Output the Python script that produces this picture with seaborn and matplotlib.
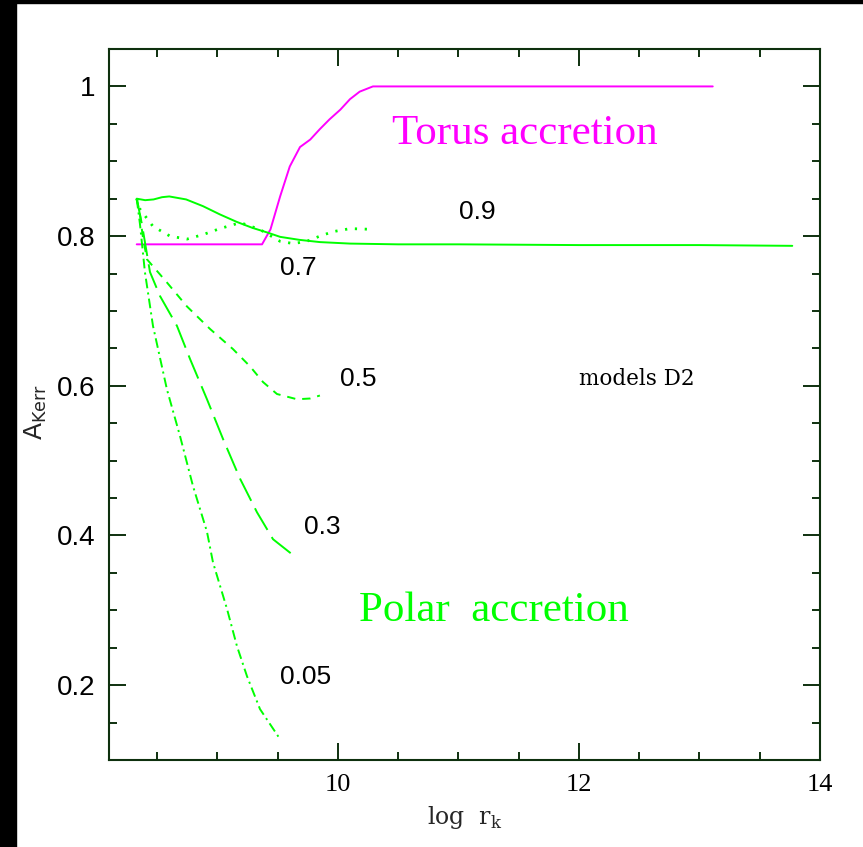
import matplotlib
matplotlib.use("Agg")
import matplotlib.pyplot as plt
import seaborn as sns
import pandas as pd
from matplotlib.patches import Rectangle
from matplotlib.ticker import MultipleLocator

# ---- data ----
torus_x = [8.33, 9.37, 9.44, 9.52, 9.60, 9.685, 9.77, 9.85, 9.93, 10.02, 10.10, 10.18, 10.29, 13.11]
torus_y = [0.789, 0.789, 0.809, 0.853, 0.893, 0.919, 0.929, 0.943, 0.956, 0.969, 0.983, 0.993, 1.0, 1.0]

a09_x = [8.33, 8.40, 8.47, 8.54, 8.60, 8.74, 8.88, 9.02, 9.16, 9.29, 9.41, 9.52, 9.68, 9.85, 10.1, 10.5, 11.0, 12.0, 13.0, 13.77]
a09_y = [0.85, 0.848, 0.849, 0.852, 0.853, 0.849, 0.840, 0.829, 0.819, 0.811, 0.805, 0.799, 0.795, 0.792, 0.790, 0.789, 0.789, 0.788, 0.788, 0.787]

a07_x = [8.33, 8.357, 8.465, 8.606, 8.747, 8.88, 9.02, 9.19, 9.35, 9.52, 9.63, 9.74, 9.85, 9.96, 10.10, 10.29]
a07_y = [0.85, 0.836, 0.813, 0.800, 0.796, 0.802, 0.810, 0.818, 0.809, 0.793, 0.790, 0.793, 0.800, 0.806, 0.810, 0.809]

a05_x = [8.33, 8.357, 8.38, 8.415, 8.581, 8.747, 8.938, 9.129, 9.27, 9.378, 9.494, 9.66, 9.768, 9.85]
a05_y = [0.85, 0.829, 0.80, 0.769, 0.738, 0.706, 0.676, 0.649, 0.626, 0.605, 0.589, 0.582, 0.583, 0.587]

a03_x = [8.33, 8.373, 8.44, 8.523, 8.664, 8.772, 8.913, 9.046, 9.187, 9.328, 9.461, 9.618]
a03_y = [0.85, 0.816, 0.752, 0.720, 0.680, 0.636, 0.582, 0.529, 0.476, 0.431, 0.395, 0.375]

a005_x = [8.33, 8.357, 8.398, 8.465, 8.581, 8.689, 8.797, 8.913, 8.963, 9.079, 9.162, 9.245, 9.353, 9.519]
a005_y = [0.85, 0.816, 0.752, 0.680, 0.595, 0.533, 0.466, 0.405, 0.364, 0.302, 0.252, 0.212, 0.168, 0.128]

curve_labels = ["0.9", "0.7", "0.5", "0.3", "0.05"]
label_x = [11.16, 9.67, 10.17, 9.87, 9.73]
label_y = [0.832, 0.758, 0.609, 0.411, 0.211]

xticks = [10, 12, 14]
yticks = [0.2, 0.4, 0.6, 0.8, 1.0]
ytick_labels = ["0.2", "0.4", "0.6", "0.8", "1"]

# ---- style ----
sns.set_style("white")
plt.rcParams["lines.scale_dashes"] = False
frame = "#0e300e"
green = "#00ff00"
magenta = "#ff00ff"

fig = plt.figure(figsize=(8.63, 8.47), dpi=100)
fig.patch.set_facecolor("white")
fig.add_artist(Rectangle((0, 0), 16 / 863, 1, transform=fig.transFigure, color="black", zorder=10))
fig.add_artist(Rectangle((0, 1 - 3 / 847), 1, 3 / 847, transform=fig.transFigure, color="black", zorder=10))

ax = fig.add_axes([109 / 863, 1 - 760 / 847, (820 - 109) / 863, (760 - 49) / 847])

lw = 1.4
sns.lineplot(x=torus_x, y=torus_y, ax=ax, color=magenta, lw=lw, estimator=None, sort=False)
sns.lineplot(x=a09_x, y=a09_y, ax=ax, color=green, lw=lw, estimator=None, sort=False)
sns.lineplot(x=a07_x, y=a07_y, ax=ax, color=green, lw=2.0, estimator=None, sort=False,
             linestyle=(0, (1.6, 5.5)))
sns.lineplot(x=a05_x, y=a05_y, ax=ax, color=green, lw=lw, estimator=None, sort=False,
             linestyle=(0, (6, 5)))
sns.lineplot(x=a03_x, y=a03_y, ax=ax, color=green, lw=lw, estimator=None, sort=False,
             linestyle=(0, (18, 6)))
sns.lineplot(x=a005_x, y=a005_y, ax=ax, color=green, lw=lw, estimator=None, sort=False,
             linestyle=(0, (7, 3, 1.5, 3)))

for t, x, y in zip(curve_labels, label_x, label_y):
    ax.text(x, y, t, ha="center", va="center", fontsize=19, color="black", family="Liberation Sans")

ax.text(12.48, 0.609, "models D2", ha="center", va="center", fontsize=15.5, color="black",
        family="DejaVu Serif")
ax.text(11.548, 0.937, "Torus accretion", ha="center", va="center", fontsize=31, color=magenta,
        family="Liberation Serif")
ax.text(11.295, 0.299, "Polar  accretion", ha="center", va="center", fontsize=31, color=green,
        family="Liberation Serif")

ax.set_xlim(8.1, 14)
ax.set_ylim(0.1, 1.05)
ax.set_xticks(xticks)
ax.set_xticklabels([str(v) for v in xticks], family="Liberation Serif", fontsize=19)
ax.set_yticks(yticks)
ax.set_yticklabels(ytick_labels, family="Liberation Sans", fontsize=20)
ax.xaxis.set_minor_locator(MultipleLocator(0.5))
ax.yaxis.set_minor_locator(MultipleLocator(0.05))
ax.tick_params(which="both", direction="in", top=True, right=True, left=True, bottom=True,
               color=frame, width=1.4, labelcolor="black")
ax.tick_params(which="major", length=12, pad=10)
ax.tick_params(which="minor", length=6)
for s in ax.spines.values():
    s.set_color(frame)
    s.set_linewidth(1.5)

ax.set_xlabel(r"log  r$_{\mathregular{k}}$", fontsize=17, family="DejaVu Serif", labelpad=6)
ax.set_ylabel(r"A$_{\mathregular{Kerr}}$", fontsize=18, family="DejaVu Sans")
ax.yaxis.set_label_coords(-0.085, 0.49)

fig.savefig("out.png", dpi=100, facecolor="white")
